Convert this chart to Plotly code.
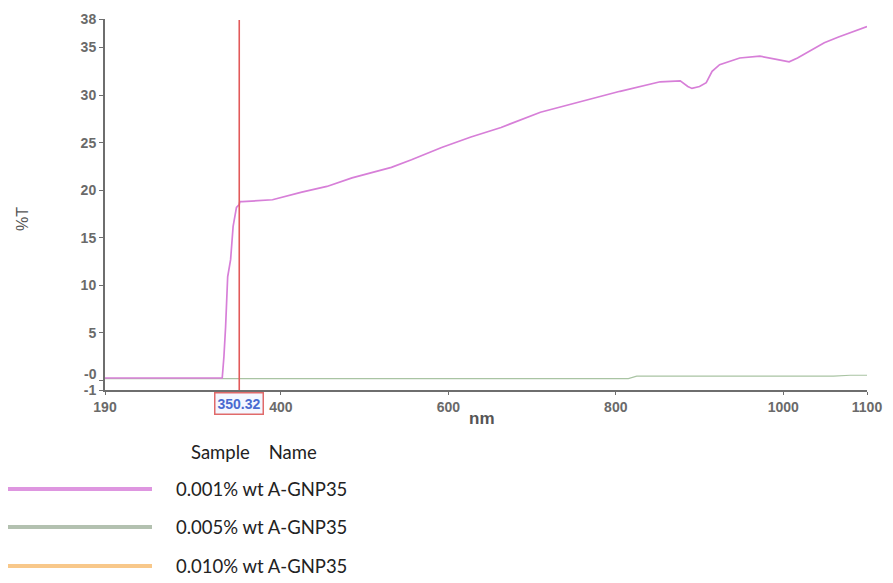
import plotly.graph_objects as go

# Transmission spectra (%T vs wavelength, nm)
nm_001 = [190, 330, 332, 334, 336.5, 340, 343, 347, 350.3, 351, 354, 390, 425, 455,
          485, 532, 556, 592, 627, 663, 710, 758, 805, 853, 877, 886, 891, 900, 908,
          915, 924, 948, 972, 995, 1007, 1017, 1031, 1049, 1066, 1090, 1100]
t_001 = [0.26, 0.26, 2.5, 5.6, 10.9, 12.7, 16.2, 18.2, 18.5, 18.8, 18.8, 19.0, 19.8, 20.4,
         21.3, 22.4, 23.2, 24.5, 25.6, 26.6, 28.2, 29.3, 30.4, 31.4, 31.5, 30.9, 30.7, 30.9, 31.3,
         32.5, 33.2, 33.9, 34.1, 33.7, 33.5, 33.9, 34.6, 35.5, 36.1, 36.9, 37.2]

nm_005 = [190, 815, 825, 1060, 1080, 1100]
t_005 = [0.2, 0.2, 0.45, 0.45, 0.55, 0.55]

nm_010 = []
t_010 = []

series_names = ["0.001% wt A-GNP35", "0.005% wt A-GNP35", "0.010% wt A-GNP35"]
series_x = [nm_001, nm_005, nm_010]
series_y = [t_001, t_005, t_010]
series_colors = ["#d77fd8", "#a9c4a3", "#f8c88a"]
legend_colors = ["#de96e0", "#b3c1b0", "#f8c88a"]
series_widths = [1.7, 1.2, 1.2]

cursor_nm = 350.32

x_ticks = [190, 400, 600, 800, 1000, 1100]
y_ticks = [-1, 0, 5, 10, 15, 20, 25, 30, 35, 38]
y_ticktext = ["-1", "", "5", "10", "15", "20", "25", "30", "35", "38"]
zero_label = "-0"

W, H = 893, 583
ML, MR, MT, MB = 105, 26, 19, 193
PW, PH = W - ML - MR, H - MT - MB


def px(xp):
    return (xp - ML) / PW


def py(yp):
    return (H - MB - yp) / PH


fig = go.Figure()

# plot series in reverse so the first sample is on top
for xs, ys, name, col, w in reversed(list(zip(series_x, series_y, series_names,
                                              series_colors, series_widths))):
    fig.add_trace(go.Scatter(x=xs, y=ys, mode="lines", name=name,
                             line=dict(color=col, width=w), showlegend=False))

# cursor line
fig.add_shape(type="line", xref="x", yref="y", x0=cursor_nm, x1=cursor_nm,
              y0=-1, y1=37.9, line=dict(color="#e25a5a", width=1.6), layer="above")

axis_font = dict(family="Liberation Sans, Arial, sans-serif", size=14, color="#6a6a6a",
                 weight="bold")

fig.update_xaxes(range=[190, 1100], tickvals=x_ticks, ticktext=[str(v) for v in x_ticks],
                 showgrid=False, zeroline=False, showline=True, linecolor="#6e6e6e",
                 linewidth=2, ticks="outside", ticklen=3, tickcolor="#6e6e6e",
                 tickfont=axis_font)
fig.update_yaxes(range=[-1, 38], tickvals=y_ticks, ticktext=y_ticktext,
                 showgrid=False, zeroline=False, showline=True, linecolor="#6e6e6e",
                 linewidth=2, ticks="outside", ticklen=4, tickcolor="#6e6e6e",
                 tickfont=axis_font)

annotations = [
    # zero tick label, nudged up off the -1 label
    dict(text=zero_label, xref="paper", yref="y", x=0, y=0, xanchor="right",
         yanchor="middle", xshift=-6, yshift=6, showarrow=False, font=axis_font),
    dict(text="%T", xref="paper", yref="paper", x=px(22), y=py(219), showarrow=False,
         textangle=-90, xanchor="center", yanchor="middle",
         font=dict(family="Liberation Sans, Arial, sans-serif", size=16, color="#555555")),
    dict(text="<b>nm</b>", xref="paper", yref="paper", x=px(482), y=py(418),
         xanchor="center", yanchor="middle", showarrow=False,
         font=dict(family="Liberation Sans, Arial, sans-serif", size=17, color="#555555")),
    dict(text="<b>350.32</b>", xref="x", yref="paper", x=cursor_nm, y=py(403.5),
         xanchor="center", yanchor="middle",
         showarrow=False, bgcolor="#f4f7ff", bordercolor="#e06a6a", borderwidth=1.5,
         borderpad=2,
         font=dict(family="Liberation Sans, Arial, sans-serif", size=14, color="#4a6ad0")),
]

# legend block below the chart
legend_font = dict(family="Lato, Carlito, sans-serif", size=18.5, color="#222222")
annotations.append(dict(text="Sample    Name", xref="paper", yref="paper",
                        x=px(189), y=py(452), xanchor="left", yanchor="middle",
                        showarrow=False, font=legend_font))
row_y = [489, 527, 566]
for name, col, yy in zip(series_names, legend_colors, row_y):
    fig.add_shape(type="line", xref="paper", yref="paper",
                  x0=px(8), x1=px(152), y0=py(yy), y1=py(yy),
                  line=dict(color=col, width=4))
    annotations.append(dict(text=name, xref="paper", yref="paper", x=px(174),
                            y=py(yy), xanchor="left", yanchor="middle",
                            showarrow=False, font=legend_font))

fig.update_layout(
    width=W, height=H,
    margin=dict(l=ML, r=MR, t=MT, b=MB),
    paper_bgcolor="white", plot_bgcolor="white",
    showlegend=False,
    annotations=annotations,
)

fig.write_html("out.html")
